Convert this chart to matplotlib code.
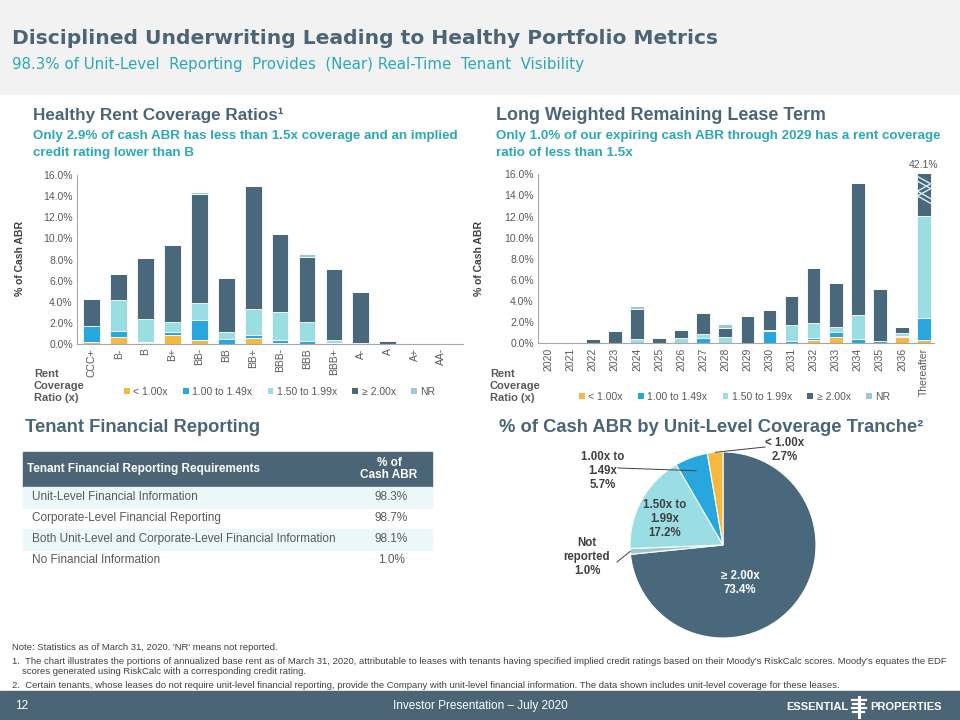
import matplotlib
matplotlib.use('Agg')
import matplotlib.pyplot as plt
from matplotlib.patches import Rectangle, Patch
import numpy as np

plt.rcParams['font.family'] = ['Liberation Sans', 'DejaVu Sans']

# ---------------- DATA ----------------
ratings = ['CCC+', 'B-', 'B', 'B+', 'BB-', 'BB', 'BB+', 'BBB-', 'BBB', 'BBB+', 'A-', 'A', 'A+', 'AA-']
r_lt100 = [0.20, 0.63, 0.05, 0.82, 0.35, 0.00, 0.54, 0.05, 0.00, 0.00, 0.00, 0.00, 0.00, 0.00]
r_100_149 = [1.50, 0.63, 0.10, 0.28, 1.89, 0.44, 0.28, 0.30, 0.25, 0.05, 0.00, 0.00, 0.00, 0.00]
r_150_199 = [0.05, 2.87, 2.25, 0.98, 1.63, 0.69, 2.49, 2.67, 1.83, 0.33, 0.05, 0.00, 0.00, 0.00]
r_ge200 = [2.55, 2.52, 5.73, 7.31, 10.37, 5.14, 11.65, 7.41, 6.11, 6.74, 4.89, 0.31, 0.00, 0.00]
r_nr = [0.00, 0.00, 0.00, 0.00, 0.16, 0.00, 0.00, 0.00, 0.35, 0.00, 0.00, 0.00, 0.00, 0.00]

years = ['2020', '2021', '2022', '2023', '2024', '2025', '2026', '2027', '2028', '2029',
         '2030', '2031', '2032', '2033', '2034', '2035', '2036', 'Thereafter']
y_lt100 = [0, 0, 0, 0, 0, 0, 0, 0, 0, 0, 0, 0.05, 0.32, 0.60, 0, 0, 0.63, 0.28]
y_100_149 = [0, 0, 0, 0, 0.05, 0, 0, 0.47, 0, 0, 1.20, 0.17, 0.22, 0.50, 0.44, 0.20, 0.05, 2.15]
y_150_199 = [0, 0, 0, 0.05, 0.33, 0.05, 0.47, 0.41, 0.57, 0.05, 0.05, 1.48, 1.35, 0.41, 2.21, 0.05, 0.27, 9.65]
y_ge200 = [0, 0, 0.41, 1.12, 2.90, 0.49, 0.76, 1.99, 0.88, 2.57, 1.94, 2.81, 5.24, 4.20, 12.52, 4.89, 0.60, 30.02]
y_nr = [0, 0, 0, 0, 0.28, 0, 0.16, 0, 0.35, 0, 0, 0, 0, 0, 0, 0, 0, 0]

series_names = ['< 1.00x', '1.00 to 1.49x', '1.50 to 1.99x', '\u2265 2.00x', 'NR']

pie_labels = ['\u2265 2.00x', 'Not\nreported', '1.50x to\n1.99x', '1.00x to\n1.49x', '< 1.00x']
pie_values = [73.4, 1.0, 17.2, 5.7, 2.7]

table_header = ['Tenant Financial Reporting Requirements', '% of\nCash ABR']
table_rows = ['Unit-Level Financial Information',
              'Corporate-Level Financial Reporting',
              'Both Unit-Level and Corporate-Level Financial Information',
              'No Financial Information']
table_vals = ['98.3%', '98.7%', '98.1%', '1.0%']

# ---------------- STYLE ----------------
C_LT = '#F5B940'
C_1 = '#27A7DE'
C_15 = '#9ADDE3'
C_2 = '#4A687B'
C_NR = '#9CC8D3'
colors = [C_LT, C_1, C_15, C_2, C_NR]
SLATE = '#4B6577'
TEAL = '#2AA9B4'
GRAY = '#595959'
DARK = '#404040'
NARROW = ['Liberation Sans Narrow', 'Liberation Sans']
WIDE = ['DejaVu Sans']

W, H = 960, 720
fig = plt.figure(figsize=(9.6, 7.2), dpi=100)

bg = fig.add_axes([0, 0, 1, 1])
bg.set_xlim(0, W)
bg.set_ylim(H, 0)
bg.axis('off')


def px_axes(x0, y0, x1, y1):
    return fig.add_axes([x0 / W, 1 - y1 / H, (x1 - x0) / W, (y1 - y0) / H])


# header
bg.add_patch(Rectangle((0, 0), W, 94, color='#F2F2F2', zorder=0))
bg.text(12, 39, 'Disciplined Underwriting Leading to Healthy Portfolio Metrics', fontsize=14.55,
        fontweight='bold', color=SLATE, va='center', ha='left', family=WIDE)
bg.text(12, 64, '98.3% of Unit-Level  Reporting  Provides  (Near) Real-Time  Tenant  Visibility',
        fontsize=10.8, color=TEAL, va='center', ha='left', family=WIDE)

# footer
bg.add_patch(Rectangle((0, 691), W, 29, color=SLATE, zorder=0))
bg.text(15, 706, '12', fontsize=8.5, color='white', va='center', ha='left')
bg.text(480, 706, 'Investor Presentation \u2013 July 2020', fontsize=8.5, color='white', va='center', ha='center')
bg.text(848, 707, 'ESSENTIAL', fontsize=8, fontweight='bold', color='white', va='center', ha='right',
        family=NARROW)
bg.text(870, 707, 'PROPERTIES', fontsize=8, fontweight='bold', color='white', va='center', ha='left',
        family=NARROW)
bg.plot([859, 859], [697, 717], color='white', lw=2.2)
for yy, x0, x1 in [(700, 852, 866), (704, 853, 864), (708, 852, 866), (712, 853, 864)]:
    bg.plot([x0, x1], [yy, yy], color='white', lw=1.6)

# section titles
bg.text(33, 115, 'Healthy Rent Coverage Ratios\u00b9', fontsize=12.3, fontweight='bold', color=SLATE, va='center')
bg.text(33, 136, 'Only 2.9% of cash ABR has less than 1.5x coverage and an implied', fontsize=9.6,
        fontweight='bold', color=TEAL, va='center')
bg.text(33, 153, 'credit rating lower than B', fontsize=9.6, fontweight='bold', color=TEAL, va='center')
bg.text(496, 115, 'Long Weighted Remaining Lease Term', fontsize=12.9, fontweight='bold', color=SLATE, va='center')
bg.text(496, 136, 'Only 1.0% of our expiring cash ABR through 2029 has a rent coverage', fontsize=9.6,
        fontweight='bold', color=TEAL, va='center')
bg.text(496, 153, 'ratio of less than 1.5x', fontsize=9.6, fontweight='bold', color=TEAL, va='center')
bg.text(25, 427, 'Tenant Financial Reporting', fontsize=13.2, fontweight='bold', color=SLATE, va='center')
bg.text(499, 427, '% of Cash ABR by Unit-Level Coverage Tranche\u00b2', fontsize=13.2, fontweight='bold',
        color=SLATE, va='center')

# y-labels
bg.text(20, 259, '% of Cash ABR', fontsize=7.5, fontweight='bold', color=DARK, rotation=90, va='center', ha='center')
bg.text(479, 259, '% of Cash ABR', fontsize=7.5, fontweight='bold', color=DARK, rotation=90, va='center', ha='center')

# "Rent Coverage Ratio (x)" labels
for x0 in (34, 490):
    bg.text(x0, 386, 'Rent\nCoverage\nRatio (x)', fontsize=8, fontweight='bold', color=GRAY,
            va='center', ha='left', linespacing=1.3)


def stacked(ax, cats, data):
    x = np.arange(len(cats))
    bottom = np.zeros(len(cats))
    for vals, c in zip(data, colors):
        v = np.array(vals, dtype=float)
        ax.bar(x, v, bottom=bottom, width=0.62, color=c, edgecolor='white', linewidth=0.6)
        bottom += v
    ax.set_ylim(0, 16)
    ax.set_yticks(np.arange(0, 17, 2))
    ax.set_yticklabels(['%.1f%%' % t for t in np.arange(0, 17, 2)])
    ax.set_xticks(x)
    ax.set_xticklabels(cats, rotation=90)
    ax.tick_params(axis='both', length=0, labelsize=7.5, labelcolor=GRAY, pad=3)
    for s in ('top', 'right'):
        ax.spines[s].set_visible(False)
    for s in ('left', 'bottom'):
        ax.spines[s].set_color('#A6A6A6')
        ax.spines[s].set_linewidth(0.8)
    ax.patch.set_alpha(0)
    return x, bottom


def add_legend(ax, xpx, ypx):
    handles = [Patch(facecolor=c, edgecolor='none') for c in colors]
    leg = ax.legend(handles, series_names, loc='center left', bbox_to_anchor=(xpx / W, 1 - ypx / H),
                    bbox_transform=fig.transFigure, ncol=5, frameon=False, fontsize=7.5,
                    handlelength=0.55, handleheight=0.55, handletextpad=0.35, columnspacing=1.45,
                    borderaxespad=0, borderpad=0)
    for t in leg.get_texts():
        t.set_color(GRAY)


# left chart
ax1 = px_axes(77, 175, 463, 344)
stacked(ax1, ratings, [r_lt100, r_100_149, r_150_199, r_ge200, r_nr])
ax1.set_xlim(-0.55, 13.8)
add_legend(ax1, 124, 392)

# right chart
ax2 = px_axes(538, 174.3, 934, 343.3)
xr, tot = stacked(ax2, years, [y_lt100, y_100_149, y_150_199, y_ge200, y_nr])
ax2.set_xlim(-0.48, 17.45)
add_legend(ax2, 579, 397)
last = len(years) - 1
ax2.text(xr[last], 16.45, '%.1f%%' % tot[last], fontsize=7.5, color=GRAY, ha='center', va='bottom', clip_on=False)
zx = xr[last] + np.array([-0.3, 0.3, -0.3, 0.3])
for off in (0.0, -0.45):
    zy = np.array([15.8, 15.1, 14.4, 13.7]) + off
    ax2.plot(zx, zy, color='#D8F0F3', lw=1.0, zorder=5)

# table
bg.add_patch(Rectangle((23, 452), 409, 34.5, color=SLATE, zorder=1))
bg.text(27, 469, table_header[0], fontsize=8.5, fontweight='bold', color='white', va='center', ha='left', zorder=2)
bg.text(389, 469, table_header[1], fontsize=8.5, fontweight='bold', color='white', va='center', ha='center',
        linespacing=1.1, zorder=2)
row_h = 21
for i, (lab, val) in enumerate(zip(table_rows, table_vals)):
    y0 = 486.5 + i * row_h
    if i % 2 == 0:
        bg.add_patch(Rectangle((23, y0), 409, row_h, color='#EBF7F8', zorder=1))
    bg.text(32, y0 + row_h / 2, lab, fontsize=8.5, color=GRAY, va='center', ha='left', zorder=2)
    bg.text(391, y0 + row_h / 2, val, fontsize=8.5, color=GRAY, va='center', ha='center', zorder=2)

# pie
cx, cy, R = 723, 545, 93
half = 125
axp = px_axes(cx - half, cy - half, cx + half, cy + half)
pie_colors = [C_2, C_NR, C_15, C_1, C_LT]
wedges, _ = axp.pie(pie_values, colors=pie_colors, startangle=90, counterclock=False,
                    wedgeprops=dict(edgecolor='white', linewidth=0.8))
lim = half / R
axp.set_xlim(-lim, lim)
axp.set_ylim(-lim, lim)
axp.set_aspect('equal')
axp.axis('off')

# top overlay for pie labels
top = fig.add_axes([0, 0, 1, 1])
top.set_xlim(0, W)
top.set_ylim(H, 0)
top.axis('off')
top.patch.set_alpha(0)


def wedge_pt(w, r):
    th = np.deg2rad((w.theta1 + w.theta2) / 2)
    return cx + r * R * np.cos(th), cy - r * R * np.sin(th)


def pct(v):
    return '%.1f%%' % v


LFS = 8.3
top.text(740, 583, pie_labels[0] + '\n' + pct(pie_values[0]), fontsize=LFS, fontweight='bold', color='white',
         ha='center', va='center', linespacing=1.2)
top.text(665, 519, pie_labels[2] + '\n' + pct(pie_values[2]), fontsize=LFS, fontweight='bold', color=DARK,
         ha='center', va='center', linespacing=1.2)
px, py = wedge_pt(wedges[1], 1.0)
top.plot([px, 617], [py, 562], color=DARK, lw=0.7)
top.text(587, 557, pie_labels[1] + '\n' + pct(pie_values[1]), fontsize=LFS, fontweight='bold', color=DARK,
         ha='center', va='center', linespacing=1.2)
px, py = wedge_pt(wedges[3], 0.85)
top.plot([px, 618], [py, 468], color=DARK, lw=0.7)
top.text(603, 471, pie_labels[3] + '\n' + pct(pie_values[3]), fontsize=LFS, fontweight='bold', color=DARK,
         ha='center', va='center', linespacing=1.2)
px, py = wedge_pt(wedges[4], 1.0)
top.plot([px, 765], [py, 447], color=DARK, lw=0.7)
top.text(785, 450, pie_labels[4] + '\n' + pct(pie_values[4]), fontsize=LFS, fontweight='bold', color=DARK,
         ha='center', va='center', linespacing=1.2)

# footnotes
notes = [
    (12, 648, "Note: Statistics as of March 31, 2020. 'NR' means not reported."),
    (12, 661, "1.  The chart illustrates the portions of annualized base rent as of March 31, 2020, attributable to leases with tenants having specified implied credit ratings based on their Moody's RiskCalc scores. Moody's equates the EDF"),
    (22, 672, "scores generated using RiskCalc with a corresponding credit rating."),
    (12, 685, "2.  Certain tenants, whose leases do not require unit-level financial reporting, provide the Company with unit-level financial information. The data shown includes unit-level coverage for these leases."),
]
for x0, y0, t in notes:
    bg.text(x0, y0, t, fontsize=6.8, color=DARK, va='center', ha='left', family=NARROW)

fig.savefig('out.png', dpi=100)
